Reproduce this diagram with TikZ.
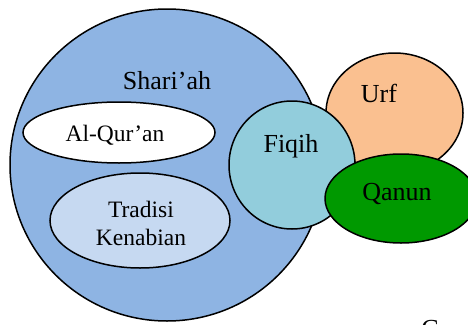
\documentclass[tikz,border=0pt]{standalone}
\usepackage{fontspec}
\setmainfont{Liberation Serif}
\usetikzlibrary{shapes.geometric}
\definecolor{shariahblue}{HTML}{8EB4E3}
\definecolor{tradblue}{HTML}{C6D9F1}
\definecolor{urforange}{HTML}{FAC090}
\definecolor{fiqihcyan}{HTML}{92CDDC}
\definecolor{qanungreen}{HTML}{009900}
\begin{document}
\begin{tikzpicture}[x=1pt,y=-1pt,
  blob/.style={ellipse, draw=black, line width=1.5pt, inner sep=0pt},
  bigtext/.style={font=\fontsize{26}{30}\selectfont, inner sep=0pt},
  smalltext/.style={font=\fontsize{23.5}{28}\selectfont, inner sep=0pt, align=center}]
\useasboundingbox (0,0) rectangle (468,324);
\clip (0,0) rectangle (468,324);
\node[blob, fill=shariahblue, minimum width=314pt, minimum height=312pt] (shariah) at (167,165) {};
\node[blob, fill=white, minimum width=192pt, minimum height=61pt] (quran) at (119,132.5) {};
\node[blob, fill=tradblue, minimum width=180pt, minimum height=95pt] (tradisi) at (140,220.5) {};
\node[blob, fill=urforange, minimum width=137pt, minimum height=120pt] (urf) at (394.5,113) {};
\node[blob, fill=fiqihcyan, minimum width=126pt, minimum height=128pt] (fiqih) at (292,165) {};
\node[blob, fill=qanungreen, minimum width=152pt, minimum height=89pt] (qanun) at (401,198.5) {};
\node[bigtext, anchor=base] (tshariah) at (167,89) {Shari’ah};
\node[smalltext, anchor=base] (tquran) at (115,141) {Al-Qur’an};
\node[smalltext, anchor=base] (ttradisi1) at (141,217) {Tradisi};
\node[smalltext, anchor=base] (ttradisi2) at (141,245) {Kenabian};
\node[bigtext, anchor=base] (tfiqih) at (291,152) {Fiqih};
\node[bigtext, anchor=base] (turf) at (379,102) {Urf};
\node[bigtext, anchor=base] (tqanun) at (397,200) {Qanun};
\node[bigtext, anchor=base] (tc) at (430,337) {C};
\end{tikzpicture}
\end{document}
